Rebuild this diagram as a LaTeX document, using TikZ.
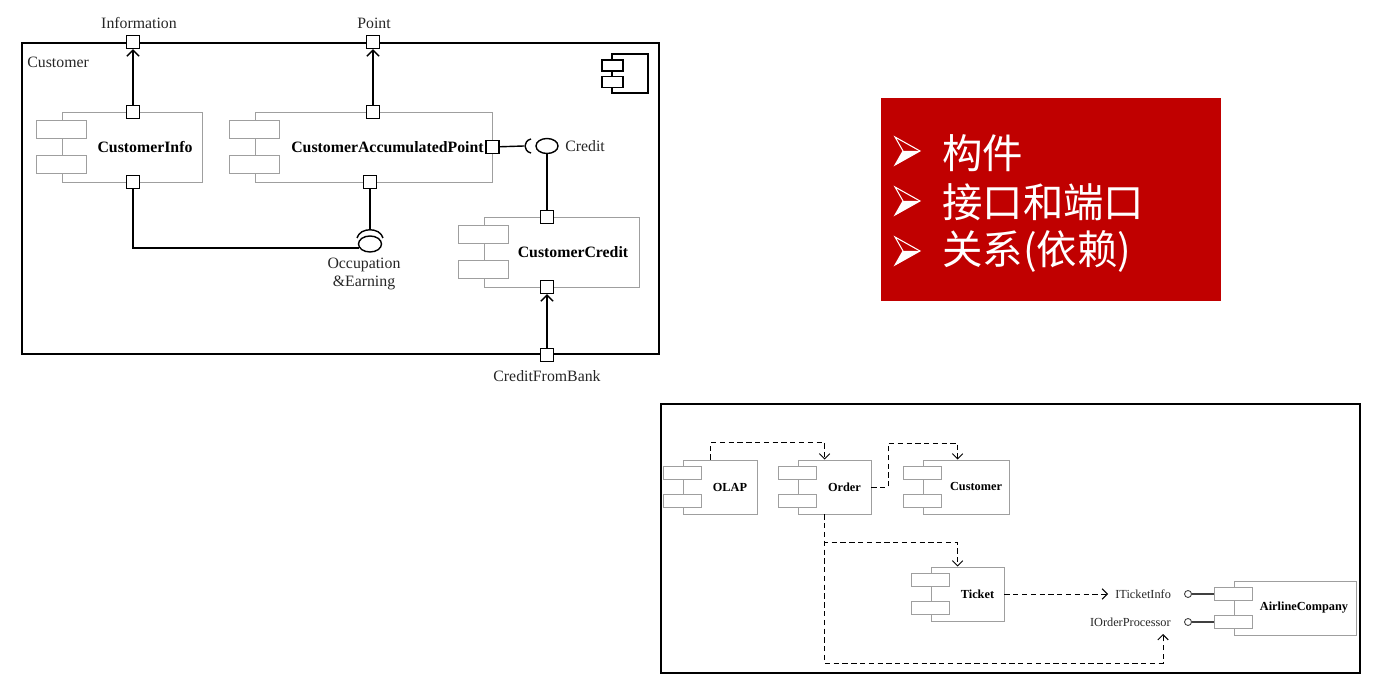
\documentclass[tikz,border=0pt]{standalone}
\usepackage{fontspec}
\setmainfont{Liberation Serif}
\newfontfamily\cjk{Noto Sans CJK SC}
\usetikzlibrary{arrows.meta,calc,shapes.geometric}
\definecolor{slidered}{HTML}{C00000}

\begin{document}
\begin{tikzpicture}[
    x=0.02cm, y=-0.02cm,
    comp/.style={draw=gray!75, fill=white, line width=0.5pt, inner sep=0pt},
    bigtab/.style={draw=gray!75, fill=white, line width=0.5pt, inner sep=0pt, minimum width=1.0cm, minimum height=0.36cm},
    smalltab/.style={draw=gray!75, fill=white, line width=0.5pt, inner sep=0pt, minimum width=0.76cm, minimum height=0.26cm},
    port/.style={draw=black, fill=white, line width=0.8pt, inner sep=0pt, minimum size=0.26cm},
    ball/.style={ellipse, draw=black, fill=white, line width=0.8pt, inner sep=0pt},
    lolli/.style={circle, draw=black!75, fill=white, line width=0.5pt, inner sep=0pt, minimum size=0.14cm},
    wire/.style={line width=0.8pt, draw=black},
    flow/.style={line width=0.8pt, -{Straight Barb[length=3.4pt, width=7pt]}},
    dep/.style={line width=0.55pt, dash pattern=on 3pt off 2pt, -{Straight Barb[length=3pt, width=6pt]}},
    lbl/.style={font=\fontsize{9}{10.5}\selectfont, text=black!85, inner sep=0pt},
    compname/.style={font=\fontsize{9}{10}\selectfont\bfseries, inner sep=0pt},
    small/.style={font=\fontsize{7}{8}\selectfont, text=black!85, inner sep=0pt},
    smallname/.style={font=\fontsize{7}{8}\selectfont\bfseries, inner sep=0pt}
]
    \useasboundingbox (0,0) rectangle (1380,675);

    % --- TOP LEFT: CUSTOMER COMPONENT WITH PORTS ---
    \node[draw=black, line width=0.9pt, minimum width=12.74cm, minimum height=6.22cm, inner sep=0pt] (custBox) at (340.5,198.5) {};
    \node[lbl, anchor=west] (custLbl) at (27,62) {Customer};

    % component icon in the corner
    \node[draw=black, line width=0.6pt, minimum width=0.72cm, minimum height=0.78cm, inner sep=0pt] (icon) at (630,73.5) {};
    \node[draw=black, fill=white, line width=0.6pt, minimum width=0.42cm, minimum height=0.22cm, inner sep=0pt] (iconTab1) at ($(icon.west)+(1,-8)$) {};
    \node[draw=black, fill=white, line width=0.6pt, minimum width=0.42cm, minimum height=0.22cm, inner sep=0pt] (iconTab2) at ($(icon.west)+(1,8.5)$) {};

    % inner components
    \node[comp, minimum width=2.8cm, minimum height=1.4cm] (info) at (132,147) {};
    \node[bigtab] (infoTab1) at ($(info.west)+(0,-17.5)$) {};
    \node[bigtab] (infoTab2) at ($(info.west)+(0,17.5)$) {};
    \node[compname] (infoLbl) at ($(info.center)+(13,0)$) {CustomerInfo};

    \node[comp, minimum width=4.74cm, minimum height=1.4cm] (cap) at (373.5,147) {};
    \node[bigtab] (capTab1) at ($(cap.west)+(0,-17.5)$) {};
    \node[bigtab] (capTab2) at ($(cap.west)+(0,17.5)$) {};
    \node[compname] (capLbl) at ($(cap.center)+(14,0)$) {CustomerAccumulatedPoint};

    \node[comp, minimum width=3.1cm, minimum height=1.4cm] (credit) at (561.5,252) {};
    \node[bigtab] (creditTab1) at ($(credit.west)+(0,-17.5)$) {};
    \node[bigtab] (creditTab2) at ($(credit.west)+(0,17.5)$) {};
    \node[compname] (creditLbl) at ($(credit.center)+(11.5,0)$) {CustomerCredit};

    % ports
    \node[port] (infoPort) at (133,42) {};
    \node[port] (pointPort) at (373,42) {};
    \node[port] (bankPort) at (547,355) {};
    \node[port] (infoTop) at (133,112) {};
    \node[port] (infoBot) at (133,182) {};
    \node[port] (capTop) at (373,112) {};
    \node[port] (capBot) at (370,182) {};
    \node[port] (capRight) at (cap.east) {};
    \node[port] (credTop) at (547,217) {};
    \node[port] (credBot) at (547,287) {};

    \node[lbl] (infoPortLbl) at (139,23) {Information};
    \node[lbl] (pointPortLbl) at (374,23) {Point};
    \node[lbl] (bankPortLbl) at (547,376) {CreditFromBank};

    % provided / required interfaces
    \node[ball, minimum width=0.44cm, minimum height=0.3cm] (credBall) at (547,146) {};
    \coordinate (credSock) at (524,146);
    \draw[wire] (531,139) .. controls (523,141) and (523,151) .. (531,153);
    \node[lbl, anchor=west] (credLbl) at (565,146) {Credit};

    \node[ball, minimum width=0.46cm, minimum height=0.32cm] (occBall) at (370,244) {};
    \coordinate (occSock) at (370,230);
    \draw[wire] (357,238) .. controls (360,227) and (380,227) .. (383,238);
    \node[lbl, align=center] (occLbl) at (364,274) {Occupation\\\&Earning};

    % connectors
    \draw[flow] (infoTop) -- (infoPort);
    \draw[flow] (capTop) -- (pointPort);
    \draw[flow] (bankPort) -- (credBot);
    \draw[wire] (capRight) -- (credSock);
    \draw[wire] (credBall) -- (credTop);
    \draw[wire] (capBot) -- (occSock);
    \draw[wire] (infoBot) |- (occBall.200);

    % --- RIGHT: RED MENU BOX ---
    \node[fill=slidered, minimum width=6.8cm, minimum height=4.06cm, inner sep=0pt] (menu) at (1051,199.5) {};
    \foreach \yy in {151,201,251} {
        \draw[white, line width=0.6pt, line join=miter] (895,\yy-14) -- (920,\yy) -- (895,\yy+14) -- (903,\yy) -- cycle;
        \fill[white] (903,\yy) -- (920,\yy) -- (895,\yy+14) -- cycle;
    }
    \node[anchor=west, text=white, font=\cjk\fontsize{23}{28}\selectfont, inner sep=0pt] (item1) at (942,153) {构件};
    \node[anchor=west, text=white, font=\cjk\fontsize{23}{28}\selectfont, inner sep=0pt] (item2) at (942,202) {接口和端口};
    \node[anchor=west, text=white, font=\cjk\fontsize{23}{28}\selectfont, inner sep=0pt] (item3) at (942,251) {关系(依赖)};

    % --- BOTTOM: DEPENDENCIES BETWEEN COMPONENTS ---
    \node[draw=black, line width=1.2pt, minimum width=13.98cm, minimum height=5.38cm, inner sep=0pt] (sysBox) at (1010.5,538.5) {};

    \node[comp, minimum width=1.48cm, minimum height=1.08cm] (olap) at (720,487) {};
    \node[smalltab] (olapTab1) at ($(olap.west)+(0,-14)$) {};
    \node[smalltab] (olapTab2) at ($(olap.west)+(0,14)$) {};
    \node[smallname] (olapLbl) at ($(olap.center)+(10,0)$) {OLAP};

    \node[comp, minimum width=1.46cm, minimum height=1.08cm] (order) at (834.5,487) {};
    \node[smalltab] (orderTab1) at ($(order.west)+(0,-14)$) {};
    \node[smalltab] (orderTab2) at ($(order.west)+(0,14)$) {};
    \node[smallname] (orderLbl) at ($(order.center)+(10,0)$) {Order};

    \node[comp, minimum width=1.72cm, minimum height=1.08cm] (lcust) at (966,487) {};
    \node[smalltab] (lcustTab1) at ($(lcust.west)+(0,-14)$) {};
    \node[smalltab] (lcustTab2) at ($(lcust.west)+(0,14)$) {};
    \node[smallname] (lcustLbl) at ($(lcust.center)+(10,0)$) {Customer};

    \node[comp, minimum width=1.46cm, minimum height=1.08cm] (ticket) at (967.5,594) {};
    \node[smalltab] (ticketTab1) at ($(ticket.west)+(0,-14)$) {};
    \node[smalltab] (ticketTab2) at ($(ticket.west)+(0,14)$) {};
    \node[smallname] (ticketLbl) at ($(ticket.center)+(10,0)$) {Ticket};

    \node[comp, minimum width=2.44cm, minimum height=1.08cm] (airline) at (1295,608) {};
    \node[smalltab] (airTab1) at ($(airline.west)+(0,-14)$) {};
    \node[smalltab] (airTab2) at ($(airline.west)+(0,14)$) {};
    \node[smallname] (airLbl) at ($(airline.center)+(9,0)$) {AirlineCompany};

    % interfaces of AirlineCompany
    \node[lolli] (itiBall) at (1188,594) {};
    \node[lolli] (iopBall) at (1188,622) {};
    \draw[black!75, line width=0.6pt] (itiBall) -- (airTab1.west);
    \draw[black!75, line width=0.6pt] (iopBall) -- (airTab2.west);
    \node[small, anchor=west] (itiLbl) at (1115,594) {ITicketInfo};
    \node[small, anchor=east] (iopLbl) at (1171,622) {IOrderProcessor};
    \coordinate (itiIn) at (1108,594);
    \coordinate (iopIn) at (1163,634);

    % dependencies
    \draw[dep] ($(olap.north west)+(28,0)$) -- ++(0,-17) -| ($(order.north west)+(27,0)$);
    \draw[dep] (order.east) -- ++(17,0) -- ++(0,-44) -| ($(lcust.north west)+(35,0)$);
    \draw[dep] ($(order.south west)+(27,0)$) -- ++(0,28) -| ($(ticket.north west)+(27,0)$);
    \draw[dep] ($(order.south west)+(27,0)$) -- ++(0,149) -| (iopIn);
    \draw[dep] (ticket.east) -- (itiIn);
\end{tikzpicture}
\end{document}
